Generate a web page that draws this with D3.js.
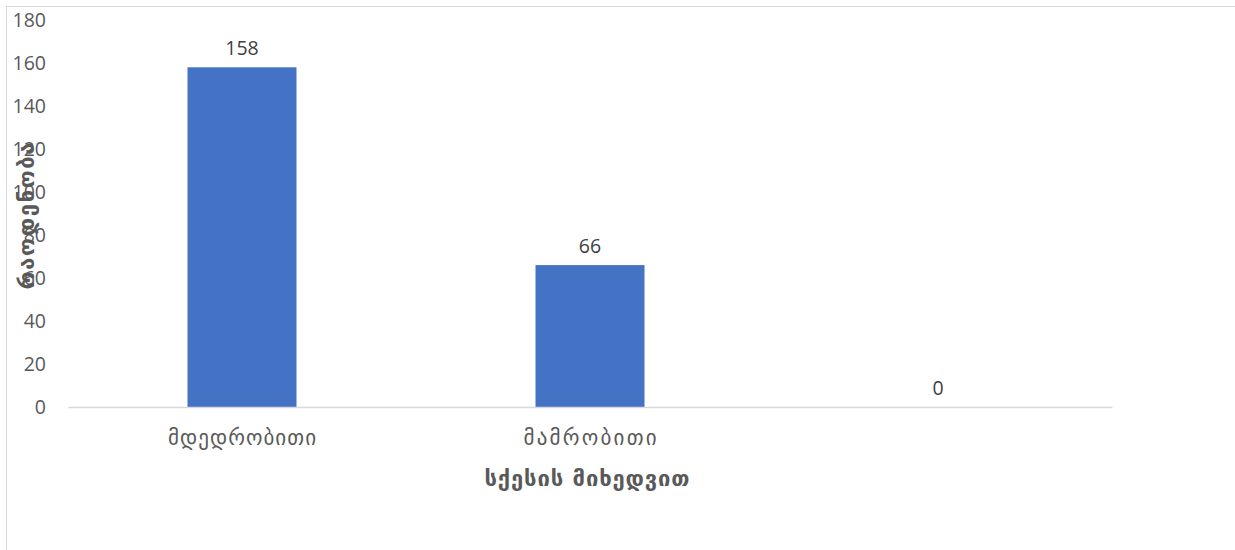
<!DOCTYPE html>
<html>
<head>
<meta charset="utf-8">
<script src="https://cdn.jsdelivr.net/npm/d3@7/dist/d3.min.js"></script>
<style>
  html, body { margin: 0; padding: 0; background: #fff; }
  svg { display: block; }
</style>
</head>
<body>
<svg id="chart" width="1235" height="550"></svg>
<script>
// Respondents by sex
const categories = ["მდედრობითი", "მამრობითი", ""];
const values = [158, 66, 0];
const yTicks = [0, 20, 40, 60, 80, 100, 120, 140, 160, 180];
const xTitle = "სქესის მიხედვით";
const yTitle = "რაოდენობა";

const svg = d3.select("#chart");
const W = 1235, H = 550;
const plot = { left: 68, right: 1112, top: 20, bottom: 407 };

// chart frame
svg.append("rect")
  .attr("x", 6.5).attr("y", 6.5)
  .attr("width", W + 10).attr("height", H + 10)
  .attr("fill", "#fff").attr("stroke", "#d9d9d9").attr("stroke-width", 1);

const x = d3.scaleBand().domain(d3.range(categories.length))
  .range([plot.left, plot.right]).paddingInner(0).paddingOuter(0);
const y = d3.scaleLinear().domain([0, 180]).range([plot.bottom, plot.top]);

const numFont = "'Open Sans', 'Liberation Sans', sans-serif";
const geoFont = "'DejaVu Sans', sans-serif";

// y axis tick labels (no axis line)
const yAxis = d3.axisLeft(y).tickValues(yTicks).tickSize(0).tickPadding(0);
const gy = svg.append("g").attr("transform", `translate(${46},0)`).call(yAxis);
gy.select(".domain").remove();
gy.selectAll("text")
  .attr("font-family", numFont).attr("font-size", 19.5)
  .attr("fill", "#595959").attr("dy", "0.35em");

// bars
const barW = 109;
svg.append("g").selectAll("rect").data(values).join("rect")
  .attr("x", (d, i) => x(i) + x.bandwidth() / 2 - barW / 2)
  .attr("y", d => y(d))
  .attr("width", barW)
  .attr("height", d => y(0) - y(d))
  .attr("fill", "#4472c4");

// x axis baseline and category labels
const xAxis = d3.axisBottom(x).tickSize(0).tickFormat(i => categories[i]).tickPadding(23);
const gx = svg.append("g").attr("transform", `translate(0,${plot.bottom})`).call(xAxis);
gx.select(".domain").attr("stroke", "#d9d9d9").attr("stroke-width", 1.5);
gx.selectAll("text")
  .attr("font-family", geoFont).attr("font-size", 21)
  .attr("fill", "#595959")
  .each(function () {
    const n = this.textContent.length;
    if (n) d3.select(this).attr("textLength", n * 14.8).attr("lengthAdjust", "spacing");
  });

// value labels
svg.append("g").selectAll("text").data(values).join("text")
  .attr("x", (d, i) => x(i) + x.bandwidth() / 2)
  .attr("y", d => y(d) - 12.5)
  .attr("text-anchor", "middle")
  .attr("font-family", numFont).attr("font-size", 19.5)
  .attr("fill", "#404040")
  .text(d => d);

// axis titles
svg.append("text")
  .attr("x", 587).attr("y", 486)
  .attr("text-anchor", "middle")
  .attr("font-family", geoFont).attr("font-size", 22).attr("font-weight", "bold")
  .attr("textLength", 205).attr("lengthAdjust", "spacing")
  .attr("fill", "#595959")
  .text(xTitle);

svg.append("text")
  .attr("transform", `translate(34,216) rotate(-90)`)
  .attr("text-anchor", "middle")
  .attr("font-family", geoFont).attr("font-size", 22).attr("font-weight", "bold")
  .attr("textLength", 147).attr("lengthAdjust", "spacing")
  .attr("fill", "#595959")
  .text(yTitle);
</script>
</body>
</html>
